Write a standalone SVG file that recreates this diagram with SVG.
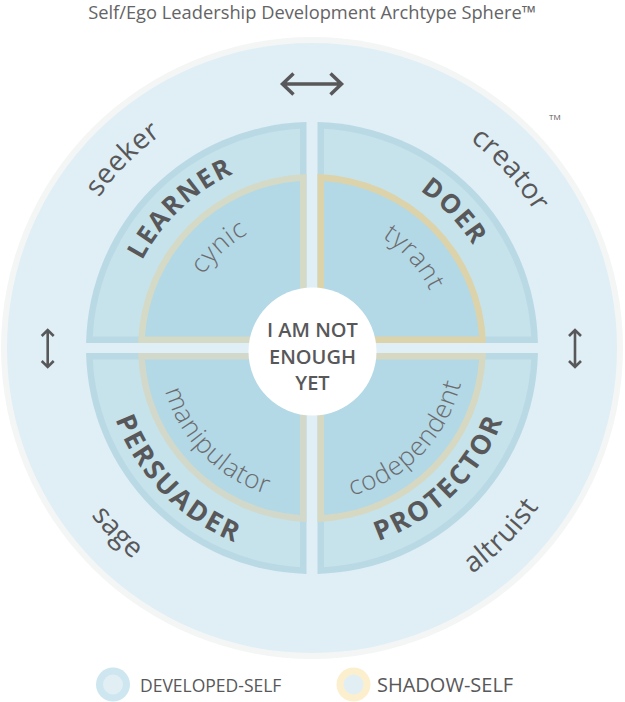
<svg xmlns="http://www.w3.org/2000/svg" width="625" height="702" viewBox="0 0 625 702">
<style>
.lbl{font-family:"Open Sans","Liberation Sans",sans-serif;fill:#58585a}
.outer{font-size:28px;font-weight:400;letter-spacing:0.5px}
.bold{font-size:26px;font-weight:700;letter-spacing:1.8px}
.boldb{font-size:27px;font-weight:700;letter-spacing:2.4px}
.light{font-size:26px;font-weight:300;fill:#6b6b6d;letter-spacing:0.8px}
.arrow{fill:none;stroke:#58585a;stroke-linejoin:miter;stroke-linecap:butt}
.qborder{fill:#b9d9e5}
.qfill{fill:#c6e3ec}
.qinner{fill:#b3d8e6}
</style>
<defs>
<path id="tOuter" d="M51,348 A261,261 0 0 1 573,348"/>
<path id="bOuter" d="M35,348 A277,277 0 0 0 589,348"/>
<path id="tBold" d="M121,348 A191,191 0 0 1 503,348"/>
<path id="bBold1" d="M103,348 A209,209 0 0 0 521,348"/>
<path id="bBold2" d="M108,348 A204,204 0 0 0 516,348"/>
<path id="tLight" d="M181,348 A131,131 0 0 1 443,348"/>
<path id="bLight" d="M159,348 A153,153 0 0 0 465,348"/>
</defs>
<rect width="625" height="702" fill="#ffffff"/>
<text x="312" y="19" text-anchor="middle" font-family="'Open Sans','Liberation Sans',sans-serif" font-size="18.3" fill="#646466">Self/Ego Leadership Development Archtype Sphere™</text>
<g id="sphere">
<circle cx="312" cy="348" r="311" fill="#f4f6f6"/>
<circle cx="312" cy="348" r="305" fill="#e0eff5"/>
</g>
<text x="549" y="120" font-family="'Open Sans','Liberation Sans',sans-serif" font-size="8" fill="#58585a">TM</text>
<g id="learner">
<path class="qborder" d="M306.5,343 L306.5,122.07 A226,226 0 0 0 86.06,343 Z"/>
<path class="qfill" d="M300,336.5 L300,128.83 A219.5,219.5 0 0 0 92.8,336.5 Z"/>
<path fill="#d4dac6" d="M306.5,343 L306.5,174.09 A174,174 0 0 0 138.07,343 Z"/>
<path class="qinner" d="M300,336.5 L300,180.93 A167.5,167.5 0 0 0 144.9,336.5 Z"/>
<text class="lbl outer" transform="rotate(-45 312 348)"><textPath href="#tOuter" startOffset="50%" text-anchor="middle">seeker</textPath></text>
<text class="lbl bold" transform="rotate(-43.3 312 348)"><textPath href="#tBold" startOffset="50%" text-anchor="middle">LEARNER</textPath></text>
<text class="lbl light" transform="rotate(-42.6 312 348)"><textPath href="#tLight" startOffset="50%" text-anchor="middle">cynic</textPath></text>
</g>
<g id="doer">
<path class="qborder" d="M317.5,343 L317.5,122.07 A226,226 0 0 1 537.94,343 Z"/>
<path class="qfill" d="M324,336.5 L324,128.83 A219.5,219.5 0 0 1 531.2,336.5 Z"/>
<path fill="#ddd3ab" d="M317.5,343 L317.5,174.09 A174,174 0 0 1 485.93,343 Z"/>
<path class="qinner" d="M324,336.5 L324,180.93 A167.5,167.5 0 0 1 479.1,336.5 Z"/>
<text class="lbl outer" transform="rotate(48 312 348)"><textPath href="#tOuter" startOffset="50%" text-anchor="middle">creator</textPath></text>
<text class="lbl bold" transform="rotate(46.2 312 348)"><textPath href="#tBold" startOffset="50%" text-anchor="middle">DOER</textPath></text>
<text class="lbl light" transform="rotate(48.5 312 348)"><textPath href="#tLight" startOffset="50%" text-anchor="middle">tyrant</textPath></text>
</g>
<g id="protector">
<path class="qborder" d="M317.5,353 L317.5,573.93 A226,226 0 0 0 537.94,353 Z"/>
<path class="qfill" d="M324,359.5 L324,567.17 A219.5,219.5 0 0 0 531.2,359.5 Z"/>
<path fill="#d7d8c2" d="M317.5,353 L317.5,521.91 A174,174 0 0 0 485.93,353 Z"/>
<path class="qinner" d="M324,359.5 L324,515.07 A167.5,167.5 0 0 0 479.1,359.5 Z"/>
<text class="lbl outer" transform="rotate(-45.2 312 348)"><textPath href="#bOuter" startOffset="50%" text-anchor="middle">altruist</textPath></text>
<text class="lbl boldb" transform="rotate(-44.3 312 348)"><textPath href="#bBold2" startOffset="50%" text-anchor="middle">PROTECTOR</textPath></text>
<text class="lbl light" transform="rotate(-46 312 348)" letter-spacing="2"><textPath href="#bLight" startOffset="50%" text-anchor="middle">codependent</textPath></text>
</g>
<g id="persuader">
<path class="qborder" d="M306.5,353 L306.5,573.93 A226,226 0 0 1 86.06,353 Z"/>
<path class="qfill" d="M300,359.5 L300,567.17 A219.5,219.5 0 0 1 92.8,359.5 Z"/>
<path fill="#d2d9ca" d="M306.5,353 L306.5,521.91 A174,174 0 0 1 138.07,353 Z"/>
<path class="qinner" d="M300,359.5 L300,515.07 A167.5,167.5 0 0 1 144.9,359.5 Z"/>
<text class="lbl outer" transform="rotate(46.5 312 348)"><textPath href="#bOuter" startOffset="50%" text-anchor="middle">sage</textPath></text>
<text class="lbl boldb" transform="rotate(45.6 312 348)"><textPath href="#bBold1" startOffset="50%" text-anchor="middle">PERSUADER</textPath></text>
<text class="lbl light" transform="rotate(45.4 312 348)"><textPath href="#bLight" startOffset="50%" text-anchor="middle">manipulator</textPath></text>
</g>
<g id="core">
<circle cx="312.5" cy="351.5" r="64" fill="#ffffff"/>
<text class="lbl" x="312.5" y="337" text-anchor="middle" font-size="20" font-weight="600">I AM NOT</text>
<text class="lbl" x="312.5" y="363.5" text-anchor="middle" font-size="20" font-weight="600">ENOUGH</text>
<text class="lbl" x="312.5" y="390" text-anchor="middle" font-size="20" font-weight="600">YET</text>
</g>
<g id="connectors">
<path class="arrow" stroke-width="3.5" d="M282,84 H341.5 M293.5,73.5 L282.5,84 L293.5,94.5 M330.5,73.5 L341.5,84 L330.5,94.5"/>
<path class="arrow" stroke-width="2.6" d="M47.7,330 V367 M41.7,336 L47.7,330 L53.7,336 M41.7,361 L47.7,367 L53.7,361"/>
<path class="arrow" stroke-width="2.6" d="M575,330 V367 M569,336 L575,330 L581,336 M569,361 L575,367 L581,361"/>
</g>
<g id="legend">
<g id="legend-developed">
<circle cx="113" cy="684.5" r="17" fill="#cde6ef"/>
<circle cx="113" cy="684.5" r="10" fill="#e1eff4"/>
<text class="lbl" x="140" y="692" font-size="17.5">DEVELOPED-SELF</text>
</g>
<g id="legend-shadow">
<circle cx="353.5" cy="684.5" r="17" fill="#fcefcd"/>
<circle cx="353.5" cy="684.5" r="10" fill="#e1eff4"/>
<text class="lbl" x="377" y="692" font-size="20">SHADOW-SELF</text>
</g>
</g>
</svg>
